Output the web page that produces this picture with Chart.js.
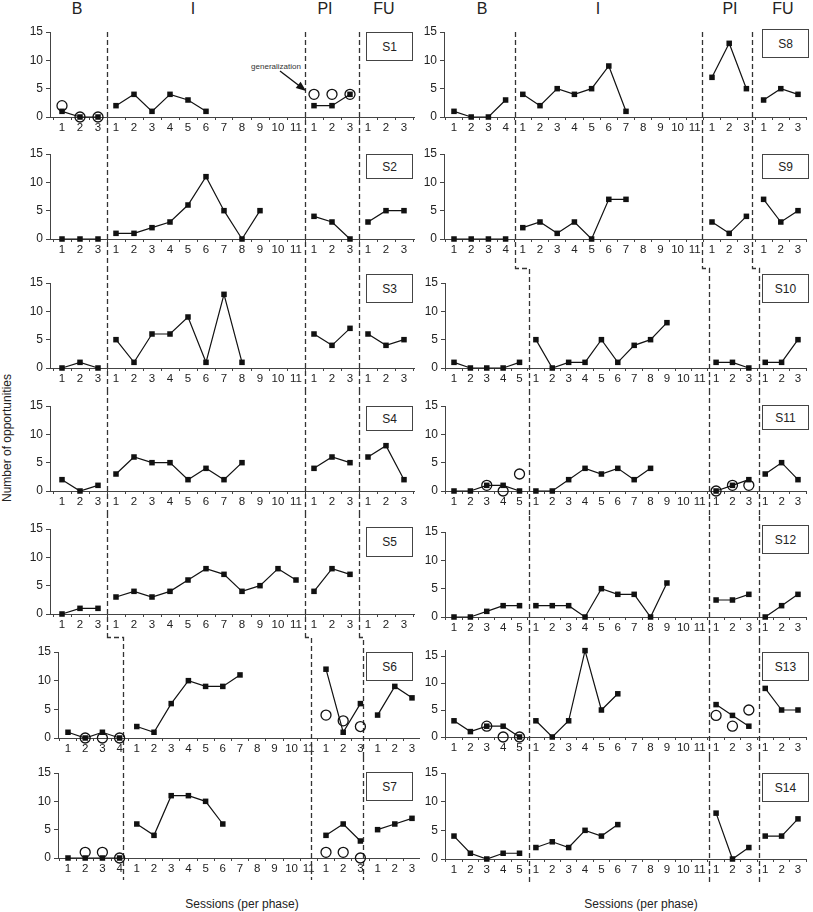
<!DOCTYPE html>
<html>
<head>
<meta charset="utf-8">
<script src="https://cdn.jsdelivr.net/npm/chart.js@4.4.0/dist/chart.umd.min.js"></script>
<style>
  body { margin: 0; background: #fff; font-family: "Liberation Sans", Arial, sans-serif; color: #222; }
  #wrap { position: relative; width: 813px; height: 912px; overflow: hidden; }
  canvas { position: absolute; }
  .hd { position: absolute; font-size: 16px; transform: translate(-50%, -50%); white-space: nowrap; }
  .ttl { position: absolute; font-size: 12px; transform: translate(-50%, -50%); white-space: nowrap; }
  .ytitle { position: absolute; font-size: 12px; white-space: nowrap; transform: translate(-50%, -50%) rotate(-90deg); }
  .box { position: absolute; width: 47px; box-sizing: border-box; border: 1.3px solid #444; background: #fff;
         font-size: 12px; display: flex; align-items: center; justify-content: center; }
  .note { position: absolute; font-size: 8px; color: #333; transform: translate(-50%, -50%); white-space: nowrap; }
</style>
</head>
<body>
<div id="wrap">
  <div class="hd" style="left:77px;top:9px">B</div>
  <div class="hd" style="left:193px;top:9px">I</div>
  <div class="hd" style="left:325px;top:9px">PI</div>
  <div class="hd" style="left:384px;top:9px">FU</div>
  <div class="hd" style="left:482px;top:9px">B</div>
  <div class="hd" style="left:598px;top:9px">I</div>
  <div class="hd" style="left:730px;top:9px">PI</div>
  <div class="hd" style="left:783px;top:9px">FU</div>
  <div class="ytitle" style="left:7px;top:438px">Number of opportunities</div>
  <div class="ttl" style="left:242px;top:904px">Sessions (per phase)</div>
  <div class="ttl" style="left:641px;top:904px">Sessions (per phase)</div>
  <div class="note" style="left:276px;top:66px">generalization</div>
</div>
<script>
// sessions per phase: B, I, PI, FU
var yTicks = [0, 5, 10, 15];

// filled squares (per phase)
var s1 = [[1, 0, 0], [2, 4, 1, 4, 3, 1], [2, 2, 4], []];
var s2 = [[0, 0, 0], [1, 1, 2, 3, 6, 11, 5, 0, 5], [4, 3, 0], [3, 5, 5]];
var s3 = [[0, 1, 0], [5, 1, 6, 6, 9, 1, 13, 1], [6, 4, 7], [6, 4, 5]];
var s4 = [[2, 0, 1], [3, 6, 5, 5, 2, 4, 2, 5], [4, 6, 5], [6, 8, 2]];
var s5 = [[0, 1, 1], [3, 4, 3, 4, 6, 8, 7, 4, 5, 8, 6], [4, 8, 7], []];
var s6 = [[1, 0, 1, 0], [2, 1, 6, 10, 9, 9, 11], [12, 1, 6], [4, 9, 7]];
var s7 = [[0, 0, 0, 0], [6, 4, 11, 11, 10, 6], [4, 6, 3], [5, 6, 7]];
var s8 = [[1, 0, 0, 3], [4, 2, 5, 4, 5, 9, 1], [7, 13, 5], [3, 5, 4]];
var s9 = [[0, 0, 0, 0], [2, 3, 1, 3, 0, 7, 7], [3, 1, 4], [7, 3, 5]];
var s10 = [[1, 0, 0, 0, 1], [5, 0, 1, 1, 5, 1, 4, 5, 8], [1, 1, 0], [1, 1, 5]];
var s11 = [[0, 0, 1, 1, 0], [0, 0, 2, 4, 3, 4, 2, 4], [0, 1, 2], [3, 5, 2]];
var s12 = [[0, 0, 1, 2, 2], [2, 2, 2, 0, 5, 4, 4, 0, 6], [3, 3, 4], [0, 2, 4]];
var s13 = [[3, 1, 2, 2, 0], [3, 0, 3, 16, 5, 8], [6, 4, 2], [9, 5, 5]];
var s14 = [[4, 1, 0, 1, 1], [2, 3, 2, 5, 4, 6], [8, 0, 2], [4, 4, 7]];

// open circles (generalization probes)
var s1Gen = [[2, 0, 0], [], [4, 4, 4], []];
var s6Gen = [[null, 0, 0, 0], [], [4, 3, 2], []];
var s7Gen = [[null, 1, 1, 0], [], [1, 1, 0], []];
var s11Gen = [[null, null, 1, 0, 3], [], [0, 1, 1], []];
var s13Gen = [[null, null, 2, 0, 0], [], [4, 2, 5], []];

var YW = 36, XH = 14;

// page geometry of each kind of panel (first session pixel, spacing, phase cut positions)
var layouts = {
  A: { lengths: [3, 11, 3, 3], axisX: 50, axisRight: 415, first: 62, step: 18, cuts: [2.5, 13.5, 16.5] },
  B: { lengths: [4, 11, 3, 3], axisX: 58, axisRight: 420, first: 68, step: 17.2, cuts: [3.17, 14.13, 17.15] },
  C: { lengths: [4, 11, 3, 3], axisX: 444, axisRight: 807, first: 454, step: 17.2, cuts: [3.55, 14.42, 17.33] },
  D: { lengths: [5, 11, 3, 3], axisX: 445, axisRight: 807, first: 454, step: 16.38, cuts: [4.58, 15.57, 18.62] }
};

var columns = [
  { lineEnd: 880, end: 892, panels: [
    { name: "S1", data: s1, gen: s1Gen, layout: "A", y15: 32, y0: 117, box: [366, 32, 29], arrow: [[12.11, 8.12], [13.56, 4.59]] },
    { name: "S2", data: s2, layout: "A", y15: 154, y0: 239, box: [366, 154, 25] },
    { name: "S3", data: s3, layout: "A", y15: 283, y0: 368, box: [366, 274, 29] },
    { name: "S4", data: s4, layout: "A", y15: 406, y0: 491, box: [366, 406, 25] },
    { name: "S5", data: s5, layout: "A", y15: 529, y0: 614, box: [366, 527, 30] },
    { name: "S6", data: s6, gen: s6Gen, layout: "B", y15: 652, y0: 738, box: [366, 652, 29] },
    { name: "S7", data: s7, gen: s7Gen, layout: "B", y15: 773, y0: 858, box: [366, 772, 29] }
  ] },
  { lineEnd: 885, end: 892, panels: [
    { name: "S8", data: s8, layout: "C", y15: 32, y0: 117, box: [762, 29, 29] },
    { name: "S9", data: s9, layout: "C", y15: 154, y0: 239, box: [762, 154, 25] },
    { name: "S10", data: s10, layout: "D", y15: 283, y0: 368, box: [762, 274, 29] },
    { name: "S11", data: s11, gen: s11Gen, layout: "D", y15: 406, y0: 491, box: [762, 405, 25] },
    { name: "S12", data: s12, layout: "D", y15: 532, y0: 617, box: [762, 525, 29] },
    { name: "S13", data: s13, gen: s13Gen, layout: "D", y15: 656, y0: 737, ymax: 16, box: [762, 652, 29] },
    { name: "S14", data: s14, layout: "D", y15: 773, y0: 859, box: [762, 773, 29] }
  ] }
];

function tickLabels(lengths) {
  var out = [];
  lengths.forEach(function (n) {
    for (var i = 1; i <= n; i++) out.push(String(i));
  });
  return out;
}

var phaseLines = {
  id: "phaseLines",
  beforeDatasetsDraw: function (chart, args, opts) {
    var p = opts.panel;
    var lay = layouts[p.layout];
    var x = chart.scales.x;
    var ctx = chart.ctx;
    var top = p.isFirst ? chart.chartArea.top : 0;
    var bottom = p.isLast ? p.lineEnd - p.top : chart.height;
    ctx.save();
    ctx.strokeStyle = "#333";
    ctx.lineWidth = 1.3;
    ctx.setLineDash([5, 3]);
    lay.cuts.forEach(function (c, k) {
      var cx = Math.round(x.getPixelForValue(c)) + 0.5;
      ctx.beginPath();
      if (p.prev && p.prev.layout !== p.layout) {
        var pc = p.prev.chart;
        var px = Math.round(pc.scales.x.getPixelForValue(layouts[p.prev.layout].cuts[k]) + p.prev.left - p.left) + 0.5;
        ctx.moveTo(px, 0);
        ctx.lineTo(px, 1.5);
        ctx.lineTo(cx, 1.5);
        ctx.lineTo(cx, bottom);
      } else {
        ctx.moveTo(cx, top);
        ctx.lineTo(cx, bottom);
      }
      ctx.stroke();
    });
    ctx.restore();
  },
  afterDatasetsDraw: function (chart, args, opts) {
    var p = opts.panel;
    if (!p.arrow) return;
    var x = chart.scales.x, y = chart.scales.y, ctx = chart.ctx;
    var x1 = x.getPixelForValue(p.arrow[0][0]), y1 = y.getPixelForValue(p.arrow[0][1]);
    var x2 = x.getPixelForValue(p.arrow[1][0]), y2 = y.getPixelForValue(p.arrow[1][1]);
    var a = Math.atan2(y2 - y1, x2 - x1);
    ctx.save();
    ctx.strokeStyle = "#111";
    ctx.fillStyle = "#111";
    ctx.lineWidth = 1.3;
    ctx.beginPath();
    ctx.moveTo(x1, y1);
    ctx.lineTo(x2 - 7 * Math.cos(a), y2 - 7 * Math.sin(a));
    ctx.stroke();
    ctx.beginPath();
    ctx.moveTo(x2, y2);
    ctx.lineTo(x2 - 10 * Math.cos(a) + 4 * Math.sin(a), y2 - 10 * Math.sin(a) - 4 * Math.cos(a));
    ctx.lineTo(x2 - 10 * Math.cos(a) - 4 * Math.sin(a), y2 - 10 * Math.sin(a) + 4 * Math.cos(a));
    ctx.closePath();
    ctx.fill();
    ctx.restore();
  }
};

Chart.defaults.font.family = '"Liberation Sans", Arial, sans-serif';

var wrap = document.getElementById("wrap");

columns.forEach(function (col) {
  var list = col.panels;
  list.forEach(function (p, idx) {
    var lay = layouts[p.layout];
    var ymax = p.ymax || 15;
    var ppu = (p.y0 - p.y15) / 15;
    p.top = p.y15 - 16;
    var bottomEdge = idx < list.length - 1 ? list[idx + 1].y15 - 16 : col.end;
    var H = bottomEdge - p.top;
    p.left = lay.axisX - YW;
    var W = lay.axisRight - p.left;
    p.isFirst = idx === 0;
    p.isLast = idx === list.length - 1;
    p.lineEnd = col.lineEnd;
    p.prev = idx > 0 ? list[idx - 1] : null;

    var padTop = p.y0 - ymax * ppu - p.top;
    var padBottom = H - XH - (p.y0 - p.top);

    var canvas = document.createElement("canvas");
    canvas.width = W;
    canvas.height = H;
    canvas.style.left = p.left + "px";
    canvas.style.top = p.top + "px";
    canvas.style.width = W + "px";
    canvas.style.height = H + "px";
    wrap.appendChild(canvas);

    var labels = tickLabels(lay.lengths);
    var datasets = [];
    var offset = 0;
    lay.lengths.forEach(function (n, k) {
      var vals = p.data[k];
      if (vals.length) {
        datasets.push({
          data: vals.map(function (v, i) { return { x: offset + i, y: v }; }),
          borderColor: "#111",
          backgroundColor: "#111",
          borderWidth: 1.2,
          pointStyle: "rect",
          pointRadius: 3.9,
          pointBorderWidth: 0,
          clip: false
        });
      }
      if (p.gen && p.gen[k].length) {
        var pts = [];
        p.gen[k].forEach(function (v, i) { if (v !== null) pts.push({ x: offset + i, y: v }); });
        datasets.push({
          data: pts,
          showLine: false,
          borderColor: "#111",
          backgroundColor: "rgba(255,255,255,0)",
          pointStyle: "circle",
          pointRadius: 5,
          pointBorderWidth: 1.3,
          clip: false
        });
      }
      offset += n;
    });

    p.chart = new Chart(canvas, {
      type: "line",
      data: { datasets: datasets },
      options: {
        responsive: false,
        animation: false,
        devicePixelRatio: 1,
        events: [],
        layout: { autoPadding: false, padding: { top: padTop, bottom: padBottom, left: 0, right: 0 } },
        plugins: {
          legend: { display: false },
          tooltip: { enabled: false },
          phaseLines: { panel: p }
        },
        scales: {
          x: {
            type: "linear",
            min: (lay.axisX - lay.first) / lay.step,
            max: (lay.axisRight - lay.first) / lay.step,
            afterBuildTicks: function (ax) {
              ax.ticks = labels.map(function (_, i) { return { value: i }; });
            },
            afterFit: function (s) { s.height = XH; },
            ticks: {
              autoSkip: false,
              maxRotation: 0,
              padding: 1,
              color: "#222",
              font: { size: 11.5 },
              callback: function (v, i) { return labels[i]; }
            },
            grid: { drawOnChartArea: false, offset: true, tickLength: 3, color: "#444" },
            border: { color: "#444", width: 1 }
          },
          y: {
            min: 0,
            max: ymax,
            afterBuildTicks: function (ax) {
              ax.ticks = yTicks.map(function (v) { return { value: v }; });
            },
            afterFit: function (s) { s.width = YW; },
            ticks: { padding: 3, color: "#222", font: { size: 12 } },
            grid: { drawOnChartArea: false, tickLength: 4, color: "#444" },
            border: { color: "#444", width: 1 }
          }
        }
      },
      plugins: [phaseLines]
    });

    var box = document.createElement("div");
    box.className = "box";
    box.style.left = p.box[0] + "px";
    box.style.top = p.box[1] + "px";
    box.style.height = p.box[2] + "px";
    box.textContent = p.name;
    wrap.appendChild(box);
  });
});
</script>
</body>
</html>
